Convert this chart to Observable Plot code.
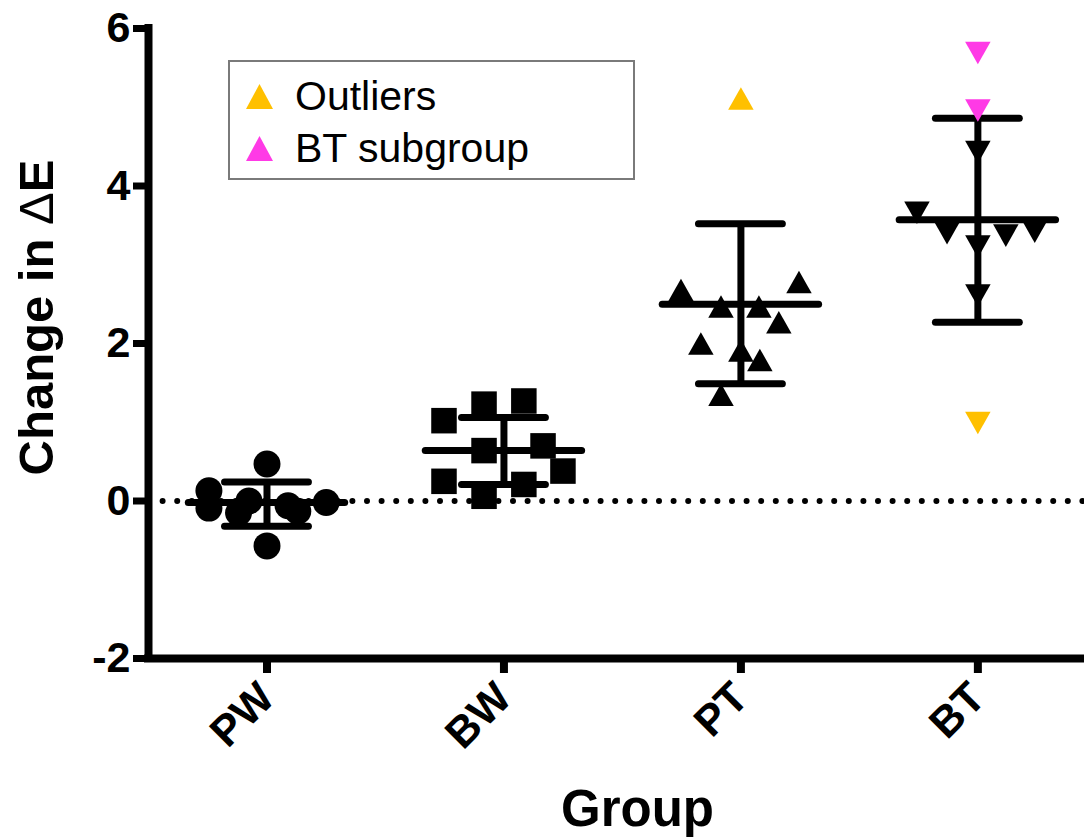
<!DOCTYPE html>
<html><head><meta charset="utf-8">
<script src="https://cdn.jsdelivr.net/npm/d3@7"></script>
<script src="https://cdn.jsdelivr.net/npm/@observablehq/plot@0.6"></script>
<style>
body{margin:0;background:#fff;font-family:"Liberation Sans",Arial,Helvetica,sans-serif;}
#wrap{position:relative;width:1084px;height:840px;overflow:hidden;}
#legend{position:absolute;left:228px;top:60px;border:2px solid #7a7a7a;background:#fff;padding-top:8px;box-sizing:border-box;height:120px;width:407px;}
.row{display:flex;align-items:center;height:52px;font-size:41px;color:#000;}
.row svg{margin-left:16px;margin-right:22px;}
</style></head>
<body><div id="wrap"></div>
<script>
// ---- data ----
const groups = ["PW", "BW", "PT", "BT"];

// horizontal scatter (group units) and values for each group
const pwJitter = [-0.245, -0.245, -0.12, -0.076, 0, 0, 0.089, 0.13, 0.25];
const pwValues = [0.13, -0.09, -0.15, 0.0, 0.47, -0.57, -0.06, -0.13, -0.02];

const bwJitter = [-0.253, -0.084, 0.084, -0.084, 0.165, 0.249, -0.253, -0.084, 0.084];
const bwValues = [1.02, 1.23, 1.27, 0.64, 0.70, 0.38, 0.25, 0.06, 0.21];

const ptJitter = [-0.253, 0.245, -0.084, 0.076, 0.16, -0.169, 0, 0.08, -0.084];
const ptValues = [2.68, 2.78, 2.47, 2.47, 2.27, 2.00, 1.91, 1.79, 1.35];

const btJitter = [0, -0.257, -0.13, 0, 0.118, 0.24, 0];
const btValues = [4.43, 3.66, 3.40, 3.23, 3.37, 3.42, 2.61];

// highlighted points
const outlierGroups = ["PT", "BT"];
const outlierValues = [5.11, 0.99];
const subgroupGroups = ["BT", "BT"];
const subgroupValues = [5.69, 4.96];

// mean and SD bars
const means = [-0.02, 0.64, 2.50, 3.57];
const sdUpper = [0.24, 1.06, 3.52, 4.86];
const sdLower = [-0.32, 0.21, 1.49, 2.27];

const yTicks = [-2, 0, 2, 4, 6];
const legendLabels = ["Outliers", "BT subgroup"];
const colors = {outlier: "#FFC000", subgroup: "#FF3AE6"};

// ---- build tables ----
const gi = g => groups.indexOf(g);
const mk = (g, jit, vals) => vals.map((v, k) => ({x: gi(g) + jit[k], y: v}));
const pw = mk("PW", pwJitter, pwValues);
const bw = mk("BW", bwJitter, bwValues);
const pt = mk("PT", ptJitter, ptValues);
const bt = mk("BT", btJitter, btValues);
const outPT = outlierGroups.map((g, k) => ({g, x: gi(g), y: outlierValues[k]})).filter(d => d.g === "PT");
const outBT = outlierGroups.map((g, k) => ({g, x: gi(g), y: outlierValues[k]})).filter(d => d.g === "BT");
const sub = subgroupGroups.map((g, k) => ({x: gi(g), y: subgroupValues[k]}));
const stats = groups.map((g, i) => ({i, mean: means[i], hi: sdUpper[i], lo: sdLower[i]}));

// bbox-centred triangle symbols
const triUp = {draw(ctx, size) {const r = Math.sqrt(size / Math.PI), w = 1.3 * r, h = 1.15 * r;
  ctx.moveTo(0, -h); ctx.lineTo(w, h); ctx.lineTo(-w, h); ctx.closePath();}};
const triDown = {draw(ctx, size) {const r = Math.sqrt(size / Math.PI), w = 1.3 * r, h = 1.15 * r;
  ctx.moveTo(-w, -h); ctx.lineTo(w, -h); ctx.lineTo(0, h); ctx.closePath();}};

const xDomain = [-0.5, 3.45];
const yDomain = [-2, 6];
const meanHalf = 0.33, capHalf = 0.177;
const font = '"Liberation Sans", Arial, Helvetica, sans-serif';

const chart = Plot.plot({
  width: 1084, height: 840,
  marginLeft: 148, marginRight: 0, marginTop: 28, marginBottom: 182,
  style: {fontFamily: font, background: "white", color: "black"},
  x: {type: "linear", domain: xDomain},
  y: {domain: yDomain},
  marks: [
    Plot.ruleY([0], {stroke: "black", strokeWidth: 6, strokeDasharray: "0 14.6", strokeLinecap: "round"}),
    Plot.axisY({ticks: yTicks, tickFormat: d => String(d), tickSize: 15, tickPadding: 3, fontSize: 43, fontWeight: "bold", strokeWidth: 7, label: null}),
    Plot.axisX({ticks: [0, 1, 2, 3], tickFormat: i => groups[i], tickRotate: -45, tickSize: 15, tickPadding: 17,
      fontSize: 43, fontWeight: "bold", strokeWidth: 8, label: null}),
    Plot.ruleX([xDomain[0]], {stroke: "black", strokeWidth: 8, strokeLinecap: "square"}),
    Plot.ruleY([yDomain[0]], {stroke: "black", strokeWidth: 8, strokeLinecap: "square"}),
    // points
    Plot.dot(pw, {x: "x", y: "y", r: 13.5, symbol: "circle", fill: "black"}),
    Plot.dot(bw, {x: "x", y: "y", r: 14.4, symbol: "square", fill: "black"}),
    Plot.dot(pt, {x: "x", y: "y", r: 9.8, symbol: triUp, fill: "black"}),
    Plot.dot(bt, {x: "x", y: "y", r: 9.8, symbol: triDown, fill: "black"}),
    // mean and SD
    Plot.ruleY(stats, {y: "mean", x1: d => d.i - meanHalf, x2: d => d.i + meanHalf, stroke: "black", strokeWidth: 7, strokeLinecap: "round"}),
    Plot.ruleY(stats, {y: "hi", x1: d => d.i - capHalf, x2: d => d.i + capHalf, stroke: "black", strokeWidth: 7, strokeLinecap: "round"}),
    Plot.ruleY(stats, {y: "lo", x1: d => d.i - capHalf, x2: d => d.i + capHalf, stroke: "black", strokeWidth: 7, strokeLinecap: "round"}),
    Plot.ruleX(stats, {x: "i", y1: "lo", y2: "hi", stroke: "black", strokeWidth: 7}),
    // highlighted
    Plot.dot(outPT, {x: "x", y: "y", r: 9.8, symbol: triUp, fill: colors.outlier}),
    Plot.dot(outBT, {x: "x", y: "y", r: 9.8, symbol: triDown, fill: colors.outlier}),
    Plot.dot(sub, {x: "x", y: "y", r: 9.8, symbol: triDown, fill: colors.subgroup}),
    // axis titles
    Plot.text(["Group"], {text: d => d, frameAnchor: "bottom", textAnchor: "middle", dx: 21, dy: 167, fontSize: 51, fontWeight: "bold", lineAnchor: "bottom"}),
    Plot.text(["Change in ΔE"], {text: d => d, frameAnchor: "left", textAnchor: "middle", rotate: -90, dx: -96, dy: -26, fontSize: 49, fontWeight: "bold", lineAnchor: "bottom"})
  ]
});

// thin delta like the reference
chart.querySelectorAll("text").forEach(t => {
  if (t.textContent === "Change in ΔE") {
    t.textContent = "";
    const ns = "http://www.w3.org/2000/svg";
    const a = document.createElementNS(ns, "tspan"); a.textContent = "Change in ";
    const b = document.createElementNS(ns, "tspan"); b.textContent = "Δ"; b.setAttribute("style", "font-weight:normal");
    const c = document.createElementNS(ns, "tspan"); c.textContent = "E";
    t.append(a, b, c);
  }
});

const wrap = document.getElementById("wrap");
wrap.appendChild(chart);

// legend
const legend = document.createElement("div");
legend.id = "legend";
const legendColors = [colors.outlier, colors.subgroup];
legendLabels.forEach((lab, k) => {
  const row = document.createElement("div");
  row.className = "row";
  row.innerHTML = `<svg width="27" height="25" viewBox="0 0 27 25"><polygon points="13.5,0 27,25 0,25" fill="${legendColors[k]}"/></svg><span>${lab}</span>`;
  legend.appendChild(row);
});
wrap.appendChild(legend);
</script>
</body></html>
